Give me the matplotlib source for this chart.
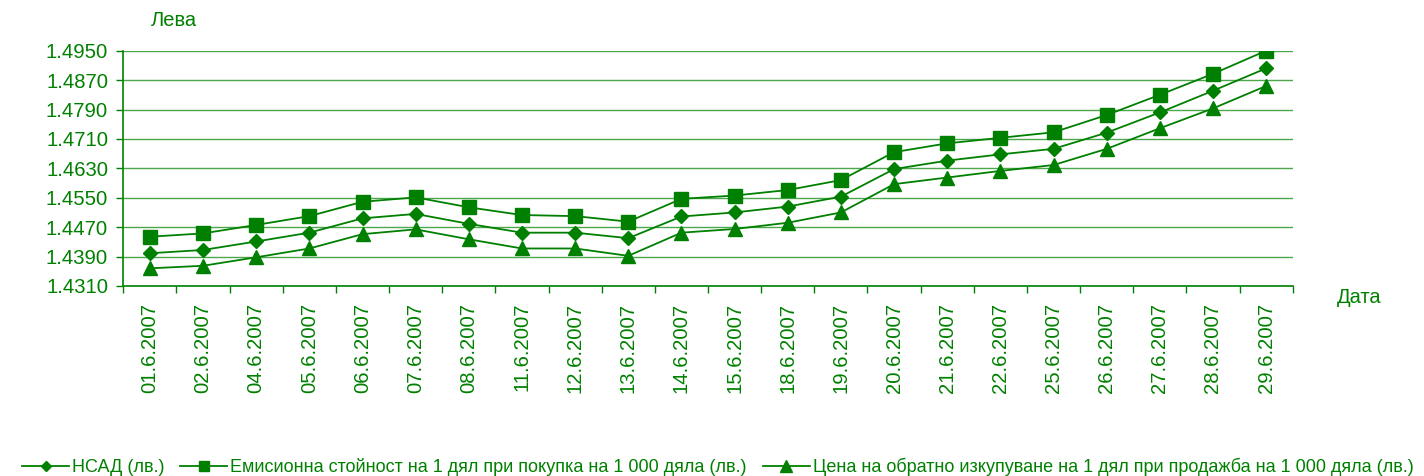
"""
Daily NAV, issue price and redemption price per share, June 2007.
"""

import numpy as np
import matplotlib
matplotlib.use("Agg")
import matplotlib.pyplot as plt
from matplotlib.ticker import FixedLocator

plt.rcParams["font.family"] = ["Liberation Sans", "DejaVu Sans"]

GREEN = "#008000"

# Dates on the x axis.
dates = ["01.6.2007", "02.6.2007", "04.6.2007", "05.6.2007", "06.6.2007",
         "07.6.2007", "08.6.2007", "11.6.2007", "12.6.2007", "13.6.2007",
         "14.6.2007", "15.6.2007", "18.6.2007", "19.6.2007", "20.6.2007",
         "21.6.2007", "22.6.2007", "25.6.2007", "26.6.2007", "27.6.2007",
         "28.6.2007", "29.6.2007"]

# NAV per share (lv.)
nav = [1.4399, 1.4408, 1.4431, 1.4455, 1.4494, 1.4506, 1.4479, 1.4455,
       1.4455, 1.4440, 1.4499, 1.4510, 1.4526, 1.4553, 1.4628, 1.4651,
       1.4668, 1.4683, 1.4727, 1.4782, 1.4841, 1.4902]

# Issue price per share when buying 1 000 shares (lv.)
issue = [1.4444, 1.4453, 1.4476, 1.4500, 1.4539, 1.4551, 1.4524, 1.4503,
         1.4500, 1.4485, 1.4547, 1.4556, 1.4571, 1.4598, 1.4674, 1.4698,
         1.4713, 1.4728, 1.4775, 1.4830, 1.4887, 1.4950]

# Redemption price per share when selling 1 000 shares (lv.)
redeem = [1.4358, 1.4365, 1.4388, 1.4412, 1.4451, 1.4464, 1.4437, 1.4412,
          1.4412, 1.4392, 1.4455, 1.4465, 1.4482, 1.4510, 1.4587, 1.4605,
          1.4623, 1.4639, 1.4683, 1.4739, 1.4793, 1.4854]

labels = ["НСАД (лв.)",
          "Емисионна стойност на 1 дял при покупка на 1 000 дяла (лв.)",
          "Цена на обратно изкупуване на 1 дял при продажба на 1 000 дяла (лв.)"]

y_ticks = [1.4310, 1.4390, 1.4470, 1.4550, 1.4630, 1.4710, 1.4790, 1.4870, 1.4950]

fig = plt.figure(figsize=(14.24, 4.76), dpi=100)
ax = fig.add_axes([0.0866, 0.3992, 0.8212, 0.4943])

x = np.arange(len(dates))
ax.plot(x, nav, color=GREEN, lw=1.3, marker="D", ms=6.8, label=labels[0])
ax.plot(x, issue, color=GREEN, lw=1.3, marker="s", ms=9.4, label=labels[1])
ax.plot(x, redeem, color=GREEN, lw=1.3, marker="^", ms=10.5, label=labels[2])

# Axis ranges and ticks (Excel style: x ticks between categories).
ax.set_xlim(-0.5, len(dates) - 0.5)
ax.set_ylim(y_ticks[0], y_ticks[-1])
ax.set_yticks(y_ticks)
ax.set_yticklabels([f"{v:.4f}" for v in y_ticks])
ax.set_xticks(x)
ax.set_xticklabels(dates, rotation=90)
ax.xaxis.set_minor_locator(FixedLocator(np.arange(-0.5, len(dates), 1.0)))
ax.tick_params(axis="x", which="major", length=0, pad=12,
               labelsize=14.6, labelcolor=GREEN)
ax.tick_params(axis="x", which="minor", length=5, color=GREEN, width=1)
ax.tick_params(axis="y", length=5, color=GREEN, width=1, pad=6,
               labelsize=14.6, labelcolor=GREEN)

ax.grid(axis="y", color=GREEN, lw=1, alpha=0.7)
ax.set_axisbelow(True)
for side in ["top", "right"]:
    ax.spines[side].set_visible(False)
for side in ["left", "bottom"]:
    ax.spines[side].set_color(GREEN)
    ax.spines[side].set_linewidth(1.2)

fig.text(0.1060, 0.957, "Лева", color=GREEN, fontsize=14.5, va="center")
fig.text(0.9390, 0.375, "Дата", color=GREEN, fontsize=14.5, va="center")

fig.legend(loc="lower center", bbox_to_anchor=(0.504, -0.035), ncol=3,
           frameon=False, fontsize=13, labelcolor=GREEN,
           handlelength=2.6, handletextpad=0.15, columnspacing=0.9,
           markerscale=0.8)

fig.savefig("out.png", dpi=100)
